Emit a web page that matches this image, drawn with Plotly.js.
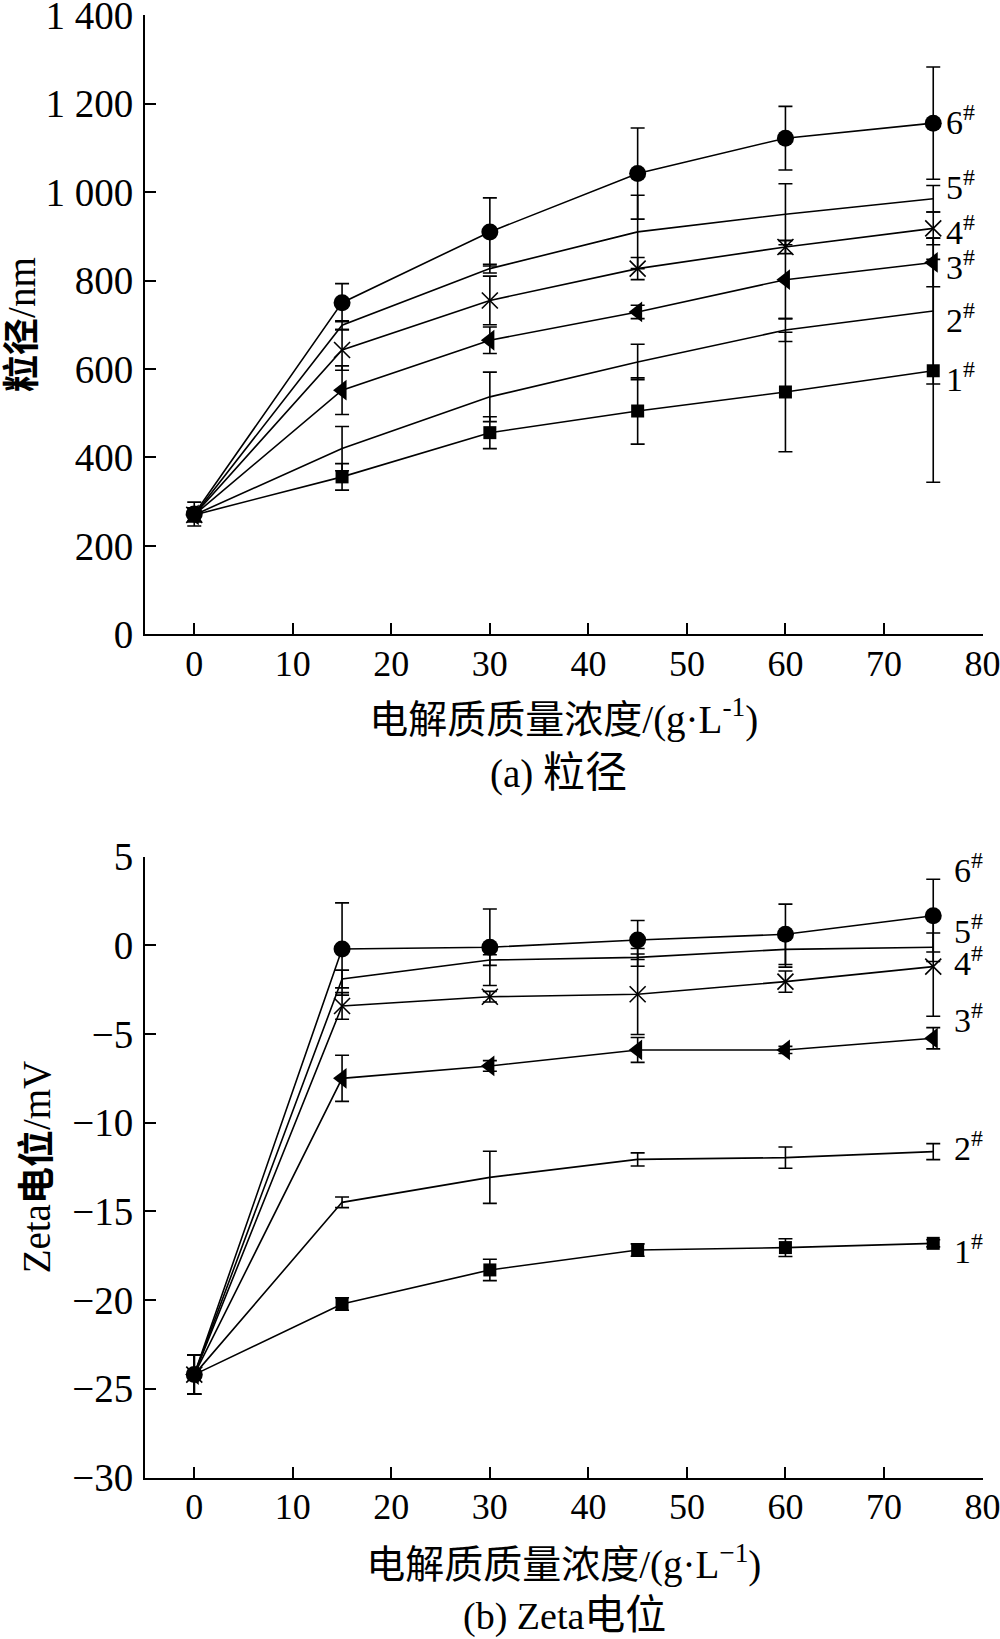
<!DOCTYPE html>
<html>
<head>
<meta charset="utf-8">
<script src="https://cdn.plot.ly/plotly-3.0.1.min.js"></script>
<style>html,body{margin:0;padding:0;background:#fff;}</style>
</head>
<body>
<div id="chart" style="width:1000px;height:1639px;"></div>
<script>
// ---- data ----
const concentration = [0, 15, 30, 45, 60, 75];
const seriesNames = ['1#', '2#', '3#', '4#', '5#', '6#'];

// (a) particle size, nm
const size1 = [270, 356, 456, 505, 548, 596];
const size2 = [270, 420, 537, 616, 688, 731];
const size3 = [270, 552, 665, 729, 802, 841];
const size4 = [270, 643, 755, 827, 876, 918];
const size5 = [270, 699, 827, 910, 950, 985];
const size6 = [272, 750, 910, 1042, 1122, 1156];
const sizeErr1 = [15, 30, 36, 75, 135, 252];
const sizeErr2 = [15, 50, 56, 40, 26, 165];
const sizeErr3 = [15, 55, 30, 15, 88, 55];
const sizeErr4 = [15, 46, 55, 25, 15, 37];
const sizeErr5 = [15, 10, 10, 83, 69, 30];
const sizeErr6 = [27, 43, 77, 103, 72, 127];

// (b) zeta potential, mV
const zeta1 = [-24.2, -20.22, -18.3, -17.18, -17.04, -16.8];
const zeta2 = [-24.2, -14.49, -13.08, -12.07, -11.97, -11.63];
const zeta3 = [-24.2, -7.5, -6.8, -5.9, -5.9, -5.24];
const zeta4 = [-24.2, -3.42, -2.9, -2.76, -2.05, -1.2];
const zeta5 = [-24.2, -1.9, -0.83, -0.68, -0.23, -0.11];
const zeta6 = [-24.2, -0.21, -0.11, 0.3, 0.62, 1.67];
const zetaErr1 = [1.1, 0.35, 0.6, 0.35, 0.5, 0.2];
const zetaErr2 = [1.1, 0.3, 1.47, 0.37, 0.6, 0.45];
const zetaErr3 = [1.1, 1.3, 0.3, 0.7, 0.2, 0.6];
const zetaErr4 = [1.1, 0.75, 0.3, 2.27, 0.6, 2.8];
const zetaErr5 = [1.1, 0.5, 0.3, 0.5, 1.0, 0.8];
const zetaErr6 = [1.1, 2.6, 2.16, 1.1, 1.7, 2.05];

// right-hand series labels (value positions)
const sizeLabelY = [581, 715, 835, 914, 1015, 1162];
const zetaLabelY = [-17.1, -11.29, -4.1, -0.9, 0.9, 4.36];

const xTicks = [0, 10, 20, 30, 40, 50, 60, 70, 80];
const sizeTicks = [0, 200, 400, 600, 800, 1000, 1200, 1400];
const sizeTickText = ['0', '200', '400', '600', '800', '1 000', '1 200', '1 400'];
const zetaTicks = [5, 0, -5, -10, -15, -20, -25, -30];

// ---- styles ----
const FONT = "'Liberation Serif', 'Times New Roman', 'Noto Sans CJK SC', serif";
const SZ = (s, px) => '<span style="font-size:' + px + 'px">' + s + '</span>';
const markerStyles = [
  {mode: 'lines+markers', marker: {symbol: 'square', size: 13, color: 'black'}},
  {mode: 'lines'},
  {mode: 'lines+markers', marker: {symbol: 'triangle-left', size: 18, color: 'black'}},
  {mode: 'lines+markers', marker: {symbol: 'x-thin-open', size: 16, color: 'black', line: {width: 1.6, color: 'black'}}},
  {mode: 'lines'},
  {mode: 'lines+markers', marker: {symbol: 'circle', size: 17, color: 'black'}}
];

const sizeData = [size1, size2, size3, size4, size5, size6];
const sizeErrs = [sizeErr1, sizeErr2, sizeErr3, sizeErr4, sizeErr5, sizeErr6];
const zetaData = [zeta1, zeta2, zeta3, zeta4, zeta5, zeta6];
const zetaErrs = [zetaErr1, zetaErr2, zetaErr3, zetaErr4, zetaErr5, zetaErr6];

const traces = [];
function addTraces(data, errs, xa, ya) {
  data.forEach((ys, i) => {
    const t = Object.assign({
      x: concentration, y: ys, xaxis: xa, yaxis: ya, name: seriesNames[i],
      type: 'scatter',
      line: {color: 'black', width: 1.6},
      error_y: {type: 'data', array: errs[i], visible: true, color: 'black', thickness: 1.6, width: 7},
      cliponaxis: false
    }, JSON.parse(JSON.stringify(markerStyles[i])));
    traces.push(t);
  });
}
addTraces(sizeData, sizeErrs, 'x', 'y');
addTraces(zetaData, zetaErrs, 'x2', 'y2');

const axisCommon = {
  showline: true, linecolor: 'black', linewidth: 2,
  ticks: 'inside', ticklen: 11, tickwidth: 2, tickcolor: 'black',
  showgrid: false, zeroline: false,
  tickfont: {family: FONT, size: 39, color: 'black'},
  ticklabeloverflow: 'allow',
  automargin: false
};
const xTickFont = {family: FONT, size: 36, color: 'black'};

const xDomain = [0.145, 0.9825];
const annotations = [];
seriesNames.forEach((n, i) => {
  annotations.push({xref: 'x', yref: 'y', x: 76.1, y: sizeLabelY[i], xanchor: 'left', yanchor: 'middle',
    text: (i + 1) + '<sup>#</sup>', showarrow: false, font: {family: FONT, size: 34, color: 'black'}});
  annotations.push({xref: 'x2', yref: 'y2', x: 76.9, y: zetaLabelY[i], xanchor: 'left', yanchor: 'middle',
    text: (i + 1) + '<sup>#</sup>', showarrow: false, font: {family: FONT, size: 34, color: 'black'}});
});
annotations.push({xref: 'paper', yref: 'paper', x: 0.558, y: 1 - 773 / 1639, xanchor: 'center', yanchor: 'middle',
  text: '(a) ' + SZ('粒径', 42), showarrow: false, font: {family: FONT, size: 39, color: 'black'}});
annotations.push({xref: 'paper', yref: 'paper', x: 0.564, y: 1 - 1615 / 1639, xanchor: 'center', yanchor: 'middle',
  text: '(b) Zeta' + SZ('电位', 41), showarrow: false, font: {family: FONT, size: 38, color: 'black'}});

const xTitleA = '电解质质量浓度/(g·L<sup>-1</sup>)';
const xTitleB = '电解质质量浓度/(g·L<sup>−1</sup>)';

const layout = {
  width: 1000, height: 1639,
  margin: {l: 0, r: 0, t: 0, b: 0},
  paper_bgcolor: 'white', plot_bgcolor: 'white',
  showlegend: false,
  font: {family: FONT, color: 'black'},
  xaxis: Object.assign({}, axisCommon, {
    domain: xDomain, anchor: 'y', range: [-5, 80], tickvals: xTicks,
    tickfont: xTickFont, ticklabelstandoff: -4,
    title: {text: xTitleA, font: {family: FONT, size: 39, color: 'black'}, standoff: 23}
  }),
  yaxis: Object.assign({}, axisCommon, {
    domain: [1 - 634.3 / 1639, 1 - 14.8 / 1639], anchor: 'x', range: [0, 1401],
    tickvals: sizeTicks, ticktext: sizeTickText, ticklabelstandoff: 2,
    title: {text: SZ('<b>粒径</b>', 37) + '/nm', font: {family: FONT, size: 39, color: 'black'}, standoff: 0}
  }),
  xaxis2: Object.assign({}, axisCommon, {
    domain: xDomain, anchor: 'y2', range: [-5, 80], tickvals: xTicks,
    tickfont: xTickFont, ticklabelstandoff: -4,
    title: {text: xTitleB, font: {family: FONT, size: 39, color: 'black'}, standoff: 25}
  }),
  yaxis2: Object.assign({}, axisCommon, {
    domain: [1 - 1477.5 / 1639, 1 - 856.6 / 1639], anchor: 'x2', range: [-30, 5],
    tickvals: zetaTicks, ticklabelstandoff: 2,
    title: {text: 'Zeta' + SZ('<b>电位</b>', 37) + '/mV', font: {family: FONT, size: 39, color: 'black'}, standoff: 10}
  }),
  annotations: annotations
};

Plotly.newPlot('chart', traces, layout, {staticPlot: true, displayModeBar: false});
</script>
</body>
</html>
